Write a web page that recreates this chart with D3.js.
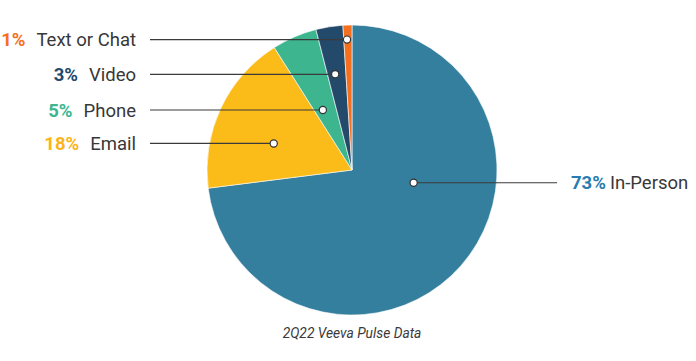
<!DOCTYPE html>
<html>
<head>
<meta charset="utf-8">
<script src="https://cdn.jsdelivr.net/npm/d3@7"></script>
<style>
  html, body { margin: 0; padding: 0; background: #fff; }
  svg { display: block; }
</style>
</head>
<body>
<svg id="chart" width="696" height="361"></svg>
<script>
// ---- data ----
const categories = ["In-Person", "Email", "Phone", "Video", "Text or Chat"];
const values = [73, 18, 5, 3, 1];
const percentLabels = ["73%", "18%", "5%", "3%", "1%"];
const caption = "2Q22 Veeva Pulse Data";

// ---- style / layout ----
const colors = ["#347f9e", "#fbbb19", "#3db68f", "#23496b", "#f4701f"];
const textColors = ["#2a7cb0", "#fbb41a", "#3db68f", "#23496b", "#f4701f"];
// anchor of callout dot within slice: [fraction of slice angle, fraction of radius]
const anchorAngleFrac = [0.387, 0.40, 0.36, 0.41, 0.39];
const anchorRadiusFrac = [0.434, 0.57, 0.46, 0.67, 0.90];
const labelSide = ["right", "left", "left", "left", "left"];

const W = 696, H = 361;
const cx = 352, cy = 170, R = 145;
const svg = d3.select("#chart");

const pie = d3.pie().sort(null).value(d => d)(values);
const arc = d3.arc().innerRadius(0).outerRadius(R);

const g = svg.append("g").attr("transform", `translate(${cx},${cy})`);
g.selectAll("path.slice").data(pie).join("path")
  .attr("class", "slice")
  .attr("d", arc)
  .attr("fill", (d, i) => colors[i])
  .attr("stroke", "#ffffff")
  .attr("stroke-width", 0.6);

// callout anchors
const anchors = pie.map((d, i) => {
  const a = d.startAngle + (d.endAngle - d.startAngle) * anchorAngleFrac[i];
  const r = R * anchorRadiusFrac[i];
  return [cx + r * Math.sin(a), cy - r * Math.cos(a)];
});

const leftLineEnd = 150, rightLineEnd = 557;
const leftTextEnd = 136, rightTextStart = 571;

const labels = svg.append("g");
anchors.forEach((p, i) => {
  const left = labelSide[i] === "left";
  const xEnd = left ? leftLineEnd : rightLineEnd;
  labels.append("line")
    .attr("x1", p[0]).attr("y1", p[1])
    .attr("x2", xEnd).attr("y2", p[1])
    .attr("stroke", "#3a3a3a").attr("stroke-width", 1.2);
  labels.append("circle")
    .attr("cx", p[0]).attr("cy", p[1]).attr("r", 3.6)
    .attr("fill", "#fff").attr("stroke", "#333").attr("stroke-width", 1.2);
  const t = labels.append("text")
    .attr("x", left ? leftTextEnd : rightTextStart)
    .attr("y", p[1])
    .attr("dy", "0.36em")
    .attr("text-anchor", left ? "end" : "start")
    .attr("font-family", "Roboto, 'Noto Sans', sans-serif")
    .attr("font-size", 18.5);
  t.append("tspan").attr("fill", textColors[i]).attr("font-weight", 700)
    .text(percentLabels[i]);
  t.append("tspan").attr("fill", "#383838").attr("dx", left ? 11 : 4)
    .text(categories[i]);
});

svg.append("text")
  .attr("x", cx).attr("y", 338)
  .attr("text-anchor", "middle")
  .attr("font-family", "Roboto, 'Noto Sans', sans-serif")
  .attr("font-style", "italic")
  .attr("font-size", 13.8)
  .attr("fill", "#3a3a3a")
  .text(caption);
</script>
</body>
</html>
